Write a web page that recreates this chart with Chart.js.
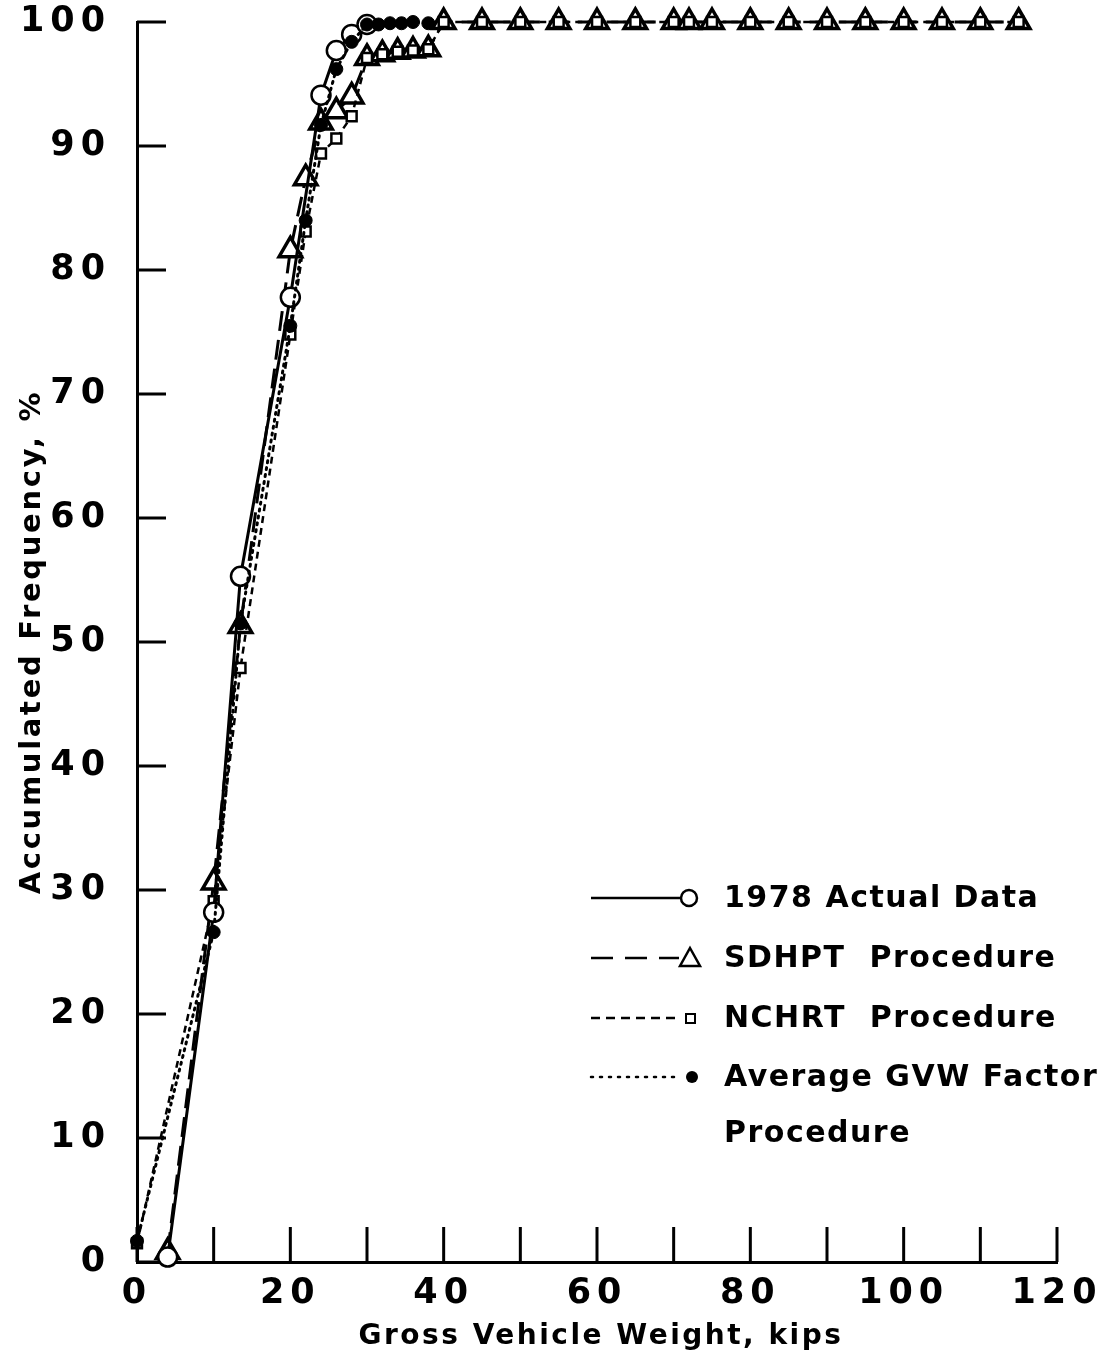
<!DOCTYPE html>
<html>
<head>
<meta charset="utf-8">
<script src="https://cdn.jsdelivr.net/npm/chart.js@4.4.1/dist/chart.umd.min.js"></script>
<style>
html, body { margin: 0; padding: 0; background: #fff; }
#wrap { width: 1104px; height: 1360px; position: relative; }
</style>
</head>
<body>
<div id="wrap"><canvas id="gvwChart"></canvas></div>
<script>
// 1978 actual data (open circles, solid line)
const actualX = [4, 10, 13.5, 20, 24, 26, 28, 30];
const actualY = [0.4, 28.2, 55.3, 77.8, 94.1, 97.7, 99.0, 99.8];

// SDHPT procedure (triangles, long dash)
const sdhptX = [4, 10, 13.5, 20, 22, 24, 26, 28, 30, 32, 34, 36, 38, 40, 45, 50, 55, 60, 65, 70, 72, 75, 80, 85, 90, 95, 100, 105, 110, 115];
const sdhptY = [0.8, 30.6, 51.3, 81.6, 87.4, 91.9, 92.8, 94.0, 97.1, 97.4, 97.6, 97.7, 97.8, 100, 100, 100, 100, 100, 100, 100, 100, 100, 100, 100, 100, 100, 100, 100, 100, 100];

// NCHRT procedure (squares, short dash)
const nchrtX = [0, 10, 13.5, 20, 22, 24, 26, 28, 30, 32, 34, 36, 38, 40, 45, 50, 55, 60, 65, 70, 72, 75, 80, 85, 90, 95, 100, 105, 110, 115];
const nchrtY = [1.5, 29.1, 47.9, 74.8, 83.1, 89.4, 90.6, 92.4, 97.1, 97.4, 97.6, 97.7, 97.8, 100, 100, 100, 100, 100, 100, 100, 100, 100, 100, 100, 100, 100, 100, 100, 100, 100];

// Average GVW factor procedure (filled dots, dotted)
const avgX = [0, 10, 13.5, 20, 22, 24, 26, 28, 30, 31.5, 33, 34.5, 36, 38];
const avgY = [1.7, 26.6, 51.5, 75.5, 84.0, 91.7, 96.2, 98.4, 99.8, 99.8, 99.9, 99.9, 100, 99.9];

const xTickLabels = [0, 20, 40, 60, 80, 100, 120];
const legendLabels = ['1978 Actual Data', 'SDHPT  Procedure', 'NCHRT  Procedure', 'Average GVW Factor', 'Procedure'];
const xTitle = 'Gross Vehicle Weight, kips';
const yTitle = 'Accumulated Frequency, %';

const FONT = '"DejaVu Sans", sans-serif';

function pts(xs, ys) {
	return xs.map((x, i) => ({ x: x, y: ys[i] }));
}

// tick marks pointing into the plot + spaced lettering
const decorPlugin = {
	id: 'decor',
	beforeDraw(chart) {
		chart.ctx.letterSpacing = '6px';
	},
	beforeDatasetsDraw(chart) {
		const ctx = chart.ctx;
		const xs = chart.scales.x, ys = chart.scales.y;
		const area = chart.chartArea;
		ctx.save();
		ctx.strokeStyle = '#000';
		ctx.lineWidth = 3;
		ctx.beginPath();
		xs.ticks.forEach(t => {
			let px = xs.getPixelForValue(t.value);
			ctx.moveTo(px, area.bottom);
			ctx.lineTo(px, area.bottom - 35);
		});
		ys.ticks.forEach(t => {
			let py = ys.getPixelForValue(t.value);
			ctx.moveTo(area.left, py);
			ctx.lineTo(area.left + 29, py);
		});
		ctx.stroke();
		ctx.restore();
	},
	afterDraw(chart) {
		const ctx = chart.ctx;
		const area = chart.chartArea;
		ctx.save();
		ctx.fillStyle = '#000';
		ctx.strokeStyle = '#000';
		// axis titles
		ctx.letterSpacing = '2.5px';
		ctx.font = 'bold 28px ' + FONT;
		ctx.textAlign = 'center';
		ctx.textBaseline = 'middle';
		ctx.fillText(xTitle, (area.left + area.right) / 2 + 4, 1337);
		ctx.save();
		ctx.translate(32, (area.top + area.bottom) / 2);
		ctx.rotate(-Math.PI / 2);
		ctx.letterSpacing = '2.7px';
		ctx.font = 'bold 29px ' + FONT;
		ctx.fillText(yTitle, 0, 0);
		ctx.restore();

		// legend
		const rows = [898, 958, 1018, 1077, 1133];
		const dashes = [[], [22, 12], [9, 6], [2, 7]];
		ctx.lineWidth = 2.5;
		for (let i = 0; i < 4; i++) {
			ctx.setLineDash(dashes[i]);
			ctx.lineCap = i == 3 ? 'round' : 'butt';
			ctx.beginPath();
			ctx.moveTo(591, rows[i]);
			ctx.lineTo(i == 0 ? 681 : 679, rows[i]);
			ctx.stroke();
		}
		ctx.setLineDash([]);
		// markers
		ctx.beginPath();
		ctx.arc(689, rows[0], 8, 0, Math.PI * 2);
		ctx.fillStyle = '#fff';
		ctx.fill();
		ctx.stroke();
		ctx.beginPath();
		ctx.moveTo(690, rows[1] - 10);
		ctx.lineTo(700, rows[1] + 8);
		ctx.lineTo(680, rows[1] + 8);
		ctx.closePath();
		ctx.stroke();
		ctx.lineWidth = 2;
		ctx.strokeRect(686, rows[2] - 4, 9, 9);
		ctx.fillStyle = '#000';
		ctx.beginPath();
		ctx.arc(692, rows[3], 6, 0, Math.PI * 2);
		ctx.fill();

		ctx.letterSpacing = '1.5px';
		ctx.font = 'bold 30px ' + FONT;
		ctx.textAlign = 'left';
		legendLabels.forEach((s, i) => ctx.fillText(s, 724, rows[i] + 1));
		ctx.restore();
	}
};

const ctx = document.getElementById('gvwChart').getContext('2d');
const myChart = new Chart(ctx, {
	type: 'line',
	data: {
		datasets: [
			{
				label: '1978 Actual Data',
				data: pts(actualX, actualY),
				borderColor: '#000',
				borderWidth: 3,
				pointStyle: 'circle',
				pointRadius: 9.5,
				pointBackgroundColor: '#fff',
				pointBorderColor: '#000',
				pointBorderWidth: 2.5,
				order: 1,
			}, {
				label: 'SDHPT Procedure',
				data: pts(sdhptX, sdhptY),
				borderColor: '#000',
				borderWidth: 3,
				borderDash: [20, 9],
				pointStyle: 'triangle',
				pointRadius: 13,
				pointBackgroundColor: '#fff',
				pointBorderColor: '#000',
				pointBorderWidth: 3.5,
				order: 3,
			}, {
				label: 'NCHRT Procedure',
				data: pts(nchrtX, nchrtY),
				borderColor: '#000',
				borderWidth: 2.5,
				borderDash: [7, 5],
				pointStyle: 'rect',
				pointRadius: 7,
				pointBackgroundColor: '#fff',
				pointBorderColor: '#000',
				pointBorderWidth: 2.5,
				order: 2,
			}, {
				label: 'Average GVW Factor Procedure',
				data: pts(avgX, avgY),
				borderColor: '#000',
				borderWidth: 3,
				borderDash: [2, 5],
				borderCapStyle: 'round',
				pointStyle: 'circle',
				pointRadius: 6.5,
				pointBackgroundColor: '#000',
				pointBorderColor: '#000',
				pointBorderWidth: 1,
				order: 0,
			}
		]
	},
	options: {
		responsive: true,
		maintainAspectRatio: false,
		animation: false,
		clip: false,
		elements: { line: { tension: 0, fill: false } },
		layout: { padding: { top: 22, right: 47, bottom: 0, left: 0 } },
		plugins: {
			legend: { display: false },
			tooltip: { enabled: false },
		},
		scales: {
			x: {
				type: 'linear',
				min: 0,
				max: 120,
				grid: { display: false },
				border: { display: true, color: '#000', width: 3 },
				ticks: {
					stepSize: 10,
					autoSkip: false,
					maxRotation: 0,
					padding: 3,
					color: '#000',
					font: { family: FONT, size: 35, weight: 'bold' },
					callback: v => xTickLabels.includes(v) ? v : '',
				},
				afterFit: s => { s.height = 98; s.paddingLeft = 0; s.paddingRight = 0; },
			},
			y: {
				min: 0,
				max: 100,
				grid: { display: false },
				border: { display: true, color: '#000', width: 3 },
				ticks: {
					stepSize: 10,
					padding: 18,
					color: '#000',
					font: { family: FONT, size: 35, weight: 'bold' },
				},
				afterFit: s => { s.width = 137; s.paddingTop = 0; s.paddingBottom = 0; },
			}
		}
	},
	plugins: [decorPlugin]
});
</script>
</body>
</html>
